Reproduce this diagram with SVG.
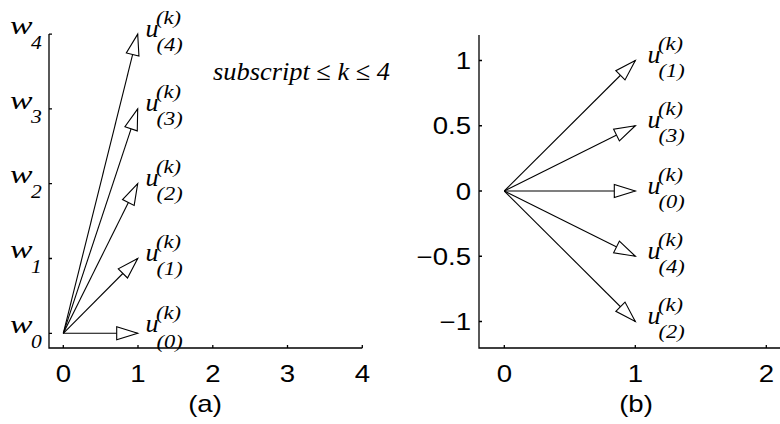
<svg xmlns="http://www.w3.org/2000/svg" width="780" height="424" viewBox="0 0 780 424">
<style>
.ax{stroke:#000;stroke-width:1.3;fill:none}
.vec{stroke:#000;stroke-width:1.1;fill:none}
.num{font-family:"Liberation Sans",Arial,sans-serif;font-size:23px;fill:#000}
.it{font-family:"Liberation Serif","Times New Roman",serif;font-style:italic;fill:#000}
.big{font-size:26px}
.sm{font-size:18px}
</style>
<defs>
<marker id="ah" markerUnits="userSpaceOnUse" viewBox="-23 -9 25 18" markerWidth="25" markerHeight="18" refX="0" refY="0" orient="auto" overflow="visible">
<path d="M0,0 L-21,-6.5 L-21,6.5 Z" fill="#fff" stroke="#000" stroke-width="1.1"/>
</marker>
</defs>
<rect width="780" height="424" fill="#fff"/>

<g id="axes-a">
<path class="ax" d="M49,34 V348 H362.3"/>
<path class="ax" d="M49,333.3 h3 M49,258.5 h3 M49,183.7 h3 M49,108.9 h3 M49,34.1 h3"/>
<path class="ax" d="M63.3,348 v-3 M138,348 v-3 M212.8,348 v-3 M287.5,348 v-3 M362.3,348 v-3"/>
<g class="num" text-anchor="middle">
<text transform="translate(63.3,382) scale(1.2,1)">0</text>
<text transform="translate(138,382) scale(1.2,1)">1</text>
<text transform="translate(212.8,382) scale(1.2,1)">2</text>
<text transform="translate(287.5,382) scale(1.2,1)">3</text>
<text transform="translate(362.3,382) scale(1.2,1)">4</text>
<text transform="translate(205,412) scale(1.2,1)">(a)</text>
</g>
<g class="it">
<text class="big" transform="translate(10,333) scale(1.3,1)">w</text><text class="sm" transform="translate(31,347.5) scale(1.2,1)">0</text>
<text class="big" transform="translate(10,258.2) scale(1.3,1)">w</text><text class="sm" transform="translate(31,272.7) scale(1.2,1)">1</text>
<text class="big" transform="translate(10,183.4) scale(1.3,1)">w</text><text class="sm" transform="translate(31,197.9) scale(1.2,1)">2</text>
<text class="big" transform="translate(10,108.6) scale(1.3,1)">w</text><text class="sm" transform="translate(31,123.1) scale(1.2,1)">3</text>
<text class="big" transform="translate(10,34) scale(1.3,1)">w</text><text class="sm" transform="translate(31,48.5) scale(1.2,1)">4</text>
</g>
<text class="it big" x="213" y="80" textLength="177" lengthAdjust="spacingAndGlyphs">subscript ≤ k ≤ 4</text>
</g>

<g id="axes-b">
<path class="ax" d="M479,35 V348 H780"/>
<path class="ax" d="M479,60.5 h3 M479,125.75 h3 M479,191 h3 M479,256.25 h3 M479,321.5 h3"/>
<path class="ax" d="M504.3,348 v-3 M635.3,348 v-3 M766.3,348 v-3"/>
<g class="num" text-anchor="end">
<text transform="translate(471,69) scale(1.2,1)">1</text>
<text transform="translate(471,134.2) scale(1.2,1)">0.5</text>
<text transform="translate(471,199.5) scale(1.2,1)">0</text>
<text transform="translate(471,264.7) scale(1.2,1)">−0.5</text>
<text transform="translate(471,330) scale(1.2,1)">−1</text>
</g>
<g class="num" text-anchor="middle">
<text transform="translate(504.3,382) scale(1.2,1)">0</text>
<text transform="translate(635.3,382) scale(1.2,1)">1</text>
<text transform="translate(766.3,382) scale(1.2,1)">2</text>
<text transform="translate(636,412) scale(1.2,1)">(b)</text>
</g>
</g>

<g id="connectors" class="vec" marker-end="url(#ah)">
<line x1="63.3" y1="333.3" x2="137.7" y2="333.3"/>
<line x1="63.3" y1="333.3" x2="137.7" y2="258.5"/>
<line x1="63.3" y1="333.3" x2="137.7" y2="183.7"/>
<line x1="63.3" y1="333.3" x2="137.7" y2="108.9"/>
<line x1="63.3" y1="333.3" x2="137.7" y2="34.1"/>
<line x1="504.3" y1="191" x2="635.3" y2="60.5"/>
<line x1="504.3" y1="191" x2="635.3" y2="125.75"/>
<line x1="504.3" y1="191" x2="635.3" y2="191"/>
<line x1="504.3" y1="191" x2="635.3" y2="256.25"/>
<line x1="504.3" y1="191" x2="635.3" y2="321.5"/>
</g>

<g id="label-a0" class="it"><text class="big" x="145.5" y="332">u</text><text class="sm" transform="translate(156,319) scale(1.25,1)">(k)</text><text class="sm" transform="translate(156.5,347.5) scale(1.25,1)">(0)</text></g>
<g id="label-a1" class="it"><text class="big" x="145.5" y="261">u</text><text class="sm" transform="translate(156,248) scale(1.25,1)">(k)</text><text class="sm" transform="translate(156.5,275) scale(1.25,1)">(1)</text></g>
<g id="label-a2" class="it"><text class="big" x="145.5" y="186.2">u</text><text class="sm" transform="translate(156,173.2) scale(1.25,1)">(k)</text><text class="sm" transform="translate(156.5,200.2) scale(1.25,1)">(2)</text></g>
<g id="label-a3" class="it"><text class="big" x="145.5" y="111.4">u</text><text class="sm" transform="translate(156,98.4) scale(1.25,1)">(k)</text><text class="sm" transform="translate(156.5,125.4) scale(1.25,1)">(3)</text></g>
<g id="label-a4" class="it"><text class="big" x="145.5" y="36.6">u</text><text class="sm" transform="translate(156,23.6) scale(1.25,1)">(k)</text><text class="sm" transform="translate(156.5,50.6) scale(1.25,1)">(4)</text></g>

<g id="label-b1" class="it"><text class="big" x="647.5" y="63">u</text><text class="sm" transform="translate(658,50) scale(1.25,1)">(k)</text><text class="sm" transform="translate(658.5,77) scale(1.25,1)">(1)</text></g>
<g id="label-b3" class="it"><text class="big" x="647.5" y="128.25">u</text><text class="sm" transform="translate(658,115.25) scale(1.25,1)">(k)</text><text class="sm" transform="translate(658.5,142.25) scale(1.25,1)">(3)</text></g>
<g id="label-b0" class="it"><text class="big" x="647.5" y="193.5">u</text><text class="sm" transform="translate(658,180.5) scale(1.25,1)">(k)</text><text class="sm" transform="translate(658.5,207.5) scale(1.25,1)">(0)</text></g>
<g id="label-b4" class="it"><text class="big" x="647.5" y="258.75">u</text><text class="sm" transform="translate(658,245.75) scale(1.25,1)">(k)</text><text class="sm" transform="translate(658.5,272.75) scale(1.25,1)">(4)</text></g>
<g id="label-b2" class="it"><text class="big" x="647.5" y="324">u</text><text class="sm" transform="translate(658,311) scale(1.25,1)">(k)</text><text class="sm" transform="translate(658.5,338) scale(1.25,1)">(2)</text></g>
</svg>
